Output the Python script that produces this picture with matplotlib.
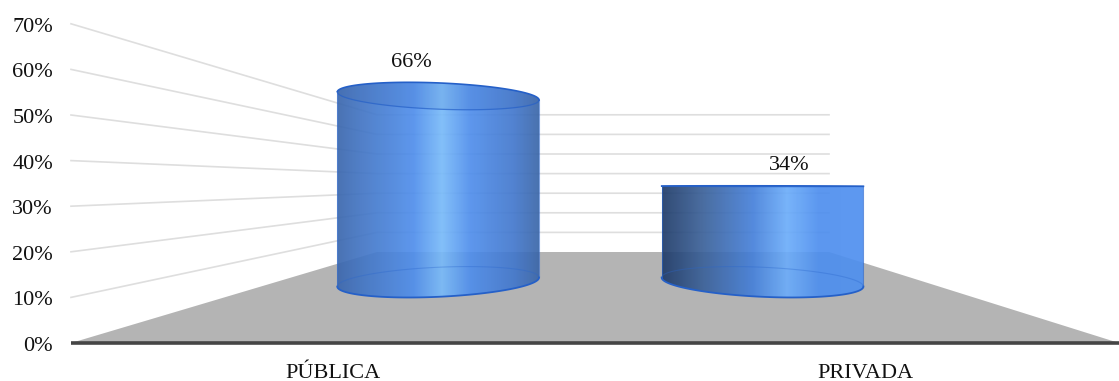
import numpy as np
import matplotlib
matplotlib.use('agg')
import matplotlib.pyplot as plt
from matplotlib.colors import LinearSegmentedColormap
from matplotlib.patches import PathPatch, Polygon
from matplotlib.path import Path

categories = ["PÚBLICA", "PRIVADA"]
values = [66, 34]
ticks = [0, 10, 20, 30, 40, 50, 60, 70]

plt.rcParams['font.family'] = ['Liberation Serif', 'DejaVu Serif']

# box geometry in pixels: front edge and back wall of the 3D floor
FRONT_L, FRONT_R, FRONT_Y, FRONT_S = 71, 1119, 343, 4.56
BACK_L, BACK_R, BACK_Y, BACK_S = 377, 829, 252, 1.96
BAR_DEPTH = 0.67
HORIZON = 183.5
VANISH_X = 601
BAR_SHARE = 0.622

shades = [
    [(0, "#3a66ac"), (0.12, "#4275c4"), (0.38, "#4f8eec"), (0.52, "#78baf9"), (0.66, "#4f8eec"),
     (0.88, "#4277cc"), (1, "#3a66a8")],
    [(0, "#1f3b68"), (0.2, "#3a6098"), (0.45, "#4580da"), (0.62, "#6cadfa"), (0.78, "#4d8eee"),
     (1, "#4f90f0")],
]


def project(u, value, depth):
    # u runs 0..1 across the floor, depth 0 is the front edge and 1 the back wall
    left = FRONT_L + (BACK_L - FRONT_L) * depth
    right = FRONT_R + (BACK_R - FRONT_R) * depth
    base = FRONT_Y + (BACK_Y - FRONT_Y) * depth
    scale = FRONT_S + (BACK_S - FRONT_S) * depth
    return left + (right - left) * u, base - scale * value


def ring(cx, y, half):
    # perspective ellipse of a cylinder cross section, flat at eye level
    ry = 0.15 * abs(y - HORIZON)
    tilt = 2.8e-6 * (y - HORIZON) * (cx - VANISH_X)
    t = np.linspace(0, 2 * np.pi, 181)
    xs = cx + half * np.cos(t)
    ys = y + ry * np.sin(t) + tilt * half * np.cos(t)
    return xs, ys


fig = plt.figure(figsize=(11.19, 3.81), dpi=100)
ax = fig.add_axes([0, 0, 1, 1])

ax.add_patch(Polygon([project(0, 0, 0), project(1, 0, 0), project(1, 0, 1), project(0, 0, 1)],
                     closed=True, fc="#b4b4b4", ec="none", zorder=1))

for t in ticks[1:]:
    p0 = project(0, t, 0)
    p1 = project(0, t, 1)
    p2 = project(1, t, 1)
    ax.plot([p0[0], p1[0], p2[0]], [p0[1], p1[1], p2[1]], color="#dedede", lw=1.2, zorder=2)

p0 = project(0, 0, 0)
p1 = project(1, 0, 0)
ax.plot([p0[0], p1[0]], [p0[1], p1[1]], color="#454545", lw=2.6, zorder=3, solid_capstyle='butt')

for t in ticks:
    x, y = project(0, t, 0)
    ax.text(53, y + 3.5, str(t) + "%", ha='right', va='center', fontsize=16, color="#111111")

for i, (cat, val) in enumerate(zip(categories, values)):
    u = (i + 0.5) / len(categories)
    x, _ = project(u, 0, 0)
    ax.text(x + (8 if i else 0), 373, cat, ha='center', va='center', fontsize=16, color="#111111")

    cx, y_bot = project(u, 0, BAR_DEPTH)
    _, y_top = project(u, val, BAR_DEPTH)
    xl, _ = project(0, 0, BAR_DEPTH)
    xr, _ = project(1, 0, BAR_DEPTH)
    half = (xr - xl) / len(categories) * BAR_SHARE / 2

    xb, yb = ring(cx, y_bot, half)
    xt, yt = ring(cx, y_top, half)

    # outer outline: lower arc of the base, then upper arc of the top ring
    out_x = np.r_[xb[:91], xt[91:181]]
    out_y = np.r_[yb[:91], yt[91:181]]
    outline = Path(np.c_[out_x, out_y])

    cmap = LinearSegmentedColormap.from_list("cyl%d" % i, shades[i])
    grad = np.linspace(0, 1, 256).reshape(1, -1)
    im = ax.imshow(grad, cmap=cmap, extent=(cx - half, cx + half, yb.max() + 1, yt.min() - 1),
                   aspect='auto', alpha=0.92, zorder=4, interpolation='bilinear')
    im.set_clip_path(PathPatch(outline, transform=ax.transData))

    # top face sits slightly darker over the body
    ax.fill(xt, yt, color="#2f5fb0", alpha=0.12, lw=0, zorder=5)
    ax.plot(xt[91:181], yt[91:181], color="#2560c8", lw=1.2, zorder=6)
    ax.plot(xt[:91], yt[:91], color="#2560c8", lw=0.9, alpha=0.7, zorder=6)
    # back half of the base ring stays faint, front half is solid
    ax.plot(xb[90:181], yb[90:181], color="#2a66cc", lw=0.8, alpha=0.35, zorder=6)
    ax.plot(xb[:91], yb[:91], color="#2560c8", lw=1.3, zorder=6)
    ax.plot([xb[0], xt[0]], [yb[0], yt[0]], color="#2a66cc", lw=0.8, alpha=0.6, zorder=6)
    ax.plot([xb[90], xt[90]], [yb[90], yt[90]], color="#2a66cc", lw=0.8, alpha=0.6, zorder=6)

    ry = 0.15 * abs(y_top - HORIZON)
    ax.text(cx + 0.165 * (cx - VANISH_X), y_top - 20 - ry, str(val) + "%", ha='center', va='center',
            fontsize=16, color="#111111", zorder=7)

ax.set_xlim(0, 1119)
ax.set_ylim(381, 0)
ax.axis('off')
fig.savefig("out.png", dpi=100)
